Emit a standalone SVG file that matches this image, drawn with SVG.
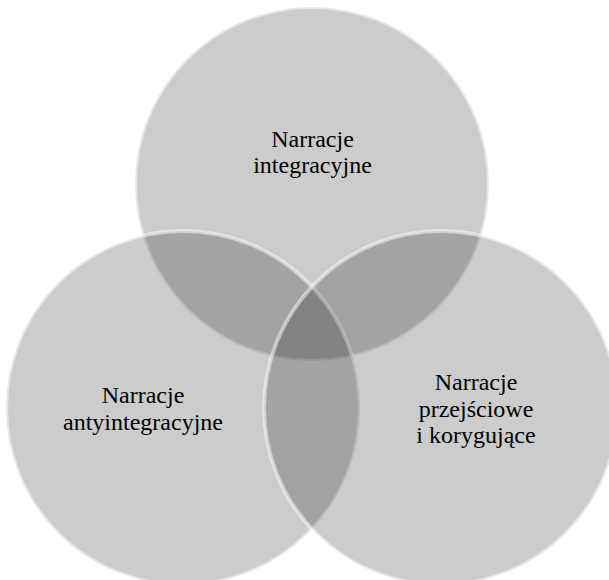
<svg xmlns="http://www.w3.org/2000/svg" width="609" height="580" viewBox="0 0 609 580">
<style>
.c{fill:#000;fill-opacity:0.2;stroke:#fff;stroke-opacity:0.5;stroke-width:4}
.t{font-family:"Liberation Serif","Times New Roman",serif;font-size:24px;fill:#000;text-anchor:middle}
</style>
<rect width="609" height="580" fill="#fff"/>
<g id="n1"><circle class="c" cx="312" cy="184" r="177"/></g>
<g id="n2"><circle class="c" cx="183" cy="408" r="177"/></g>
<g id="n3"><circle class="c" cx="441" cy="408" r="177"/></g>
<g id="connectors"></g>
<g id="labels">
<text class="t" x="312.5" y="146.7">Narracje</text>
<text class="t" x="312.5" y="173.3">integracyjne</text>
<text class="t" x="143" y="403">Narracje</text>
<text class="t" x="143" y="430">antyintegracyjne</text>
<text class="t" x="476" y="390">Narracje</text>
<text class="t" x="476" y="416.7">przejściowe</text>
<text class="t" x="476" y="443">i korygujące</text>
</g>
</svg>
